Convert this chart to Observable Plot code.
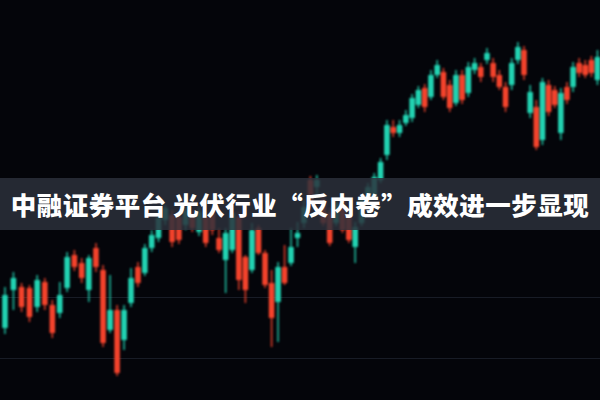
<!DOCTYPE html>
<html>
<head>
<meta charset="utf-8">
<script src="https://cdn.jsdelivr.net/npm/d3@7"></script>
<script src="https://cdn.jsdelivr.net/npm/@observablehq/plot@0.6"></script>
<style>
  html, body { margin: 0; padding: 0; background: #04050a; }
  #wrap { position: relative; width: 600px; height: 400px; overflow: hidden; background: #04050a; }
  #wrap svg { display: block; }
  #wrap svg .candle { filter: blur(0.8px); }
  #banner {
    position: absolute; left: 0; top: 178px; width: 600px; height: 52px;
    background: rgba(44, 49, 60, 0.84);
    color: #ffffff; font-family: "Noto Sans CJK SC", sans-serif; font-weight: 900;
    font-size: 25.5px; line-height: 52px; text-align: center; white-space: nowrap;
    letter-spacing: 0.5px;
  }
</style>
</head>
<body>
<div id="wrap"><div id="banner"></div></div>
<script>
const title = "中融证券平台 光伏行业“反内卷”成效进一步显现";

// candle values (price units) left to right
const opens  = [72,110,113,112,93,118,95,87,112,145,137,110,152,130,70,90,60,97,133,127,152,162,180,185,183,175,185,168,183,187,162,140,150,183,143,130,172,147,117,98,133,137,162,177,220,213,200,187,177,200,183,153,177,200,203,220,245,273,267,277,282,295,312,303,325,328,315,297,325,307,330,333,340,337,325,313,315,340,350,287,293,260,315,310,267,313,313,337,335,340,320];
const closes = [105,122,93,83,120,95,67,105,143,133,122,142,133,57,90,27,90,122,117,152,165,182,192,158,160,190,172,188,157,170,150,167,187,120,110,170,147,115,82,133,117,153,167,193,197,220,177,157,197,170,160,173,200,213,223,238,275,267,275,285,302,310,293,325,335,303,292,325,300,333,337,323,347,323,313,293,337,353,325,308,253,318,288,295,307,300,333,327,325,327,343];
const highs  = [113,128,117,115,125,122,100,118,148,150,142,145,157,135,125,95,95,132,138,156,170,188,195,190,188,195,189,193,188,192,172,172,195,188,145,177,175,150,130,138,155,172,178,200,224,225,205,192,202,205,188,178,205,217,227,242,280,280,280,290,306,314,316,330,340,332,320,330,330,338,342,337,352,342,330,318,342,358,354,315,300,322,320,314,312,318,338,342,340,344,350];
const lows   = [66,90,88,78,88,90,62,82,108,129,117,98,128,53,67,24,50,93,113,124,148,158,175,153,156,170,168,164,153,165,147,107,147,110,97,127,145,112,53,58,115,134,153,172,193,205,174,154,174,167,157,137,174,197,200,217,240,263,263,274,278,292,288,300,322,300,288,294,296,303,326,318,336,318,310,288,310,336,320,282,250,255,284,292,260,296,308,323,322,323,315];
const gridPrices = [103, 42];

const N = opens.length;
const candles = opens.map((o, i) => ({
  day: i + 1, open: o, close: closes[i], high: highs[i], low: lows[i],
  up: closes[i] >= o
}));

const teal = "#22d3b2";
const red = "#f4432c";

const chart = Plot.plot({
  width: 600,
  height: 400,
  margin: 0,
  style: { background: "#04050a" },
  // the photo is taken at a slight angle: later sessions sit closer together
  x: { type: "pow", exponent: 0.92, domain: [0.5, N + 0.5], axis: null },
  y: { domain: [0, 400], axis: null },
  marks: [
    Plot.ruleY(gridPrices, { stroke: "#181c26", strokeWidth: 1 }),
    Plot.ruleX(candles, {
      x: "day", y1: "low", y2: "high",
      stroke: d => d.up ? teal : red, strokeWidth: 1.4,
      className: "candle"
    }),
    Plot.ruleX(candles, {
      x: "day", y1: "open", y2: "close",
      stroke: d => d.up ? teal : red, strokeWidth: 5.5,
      className: "candle"
    })
  ]
});

const wrap = document.getElementById("wrap");
wrap.insertBefore(chart, wrap.firstChild);
document.getElementById("banner").textContent = title;
</script>
</body>
</html>
